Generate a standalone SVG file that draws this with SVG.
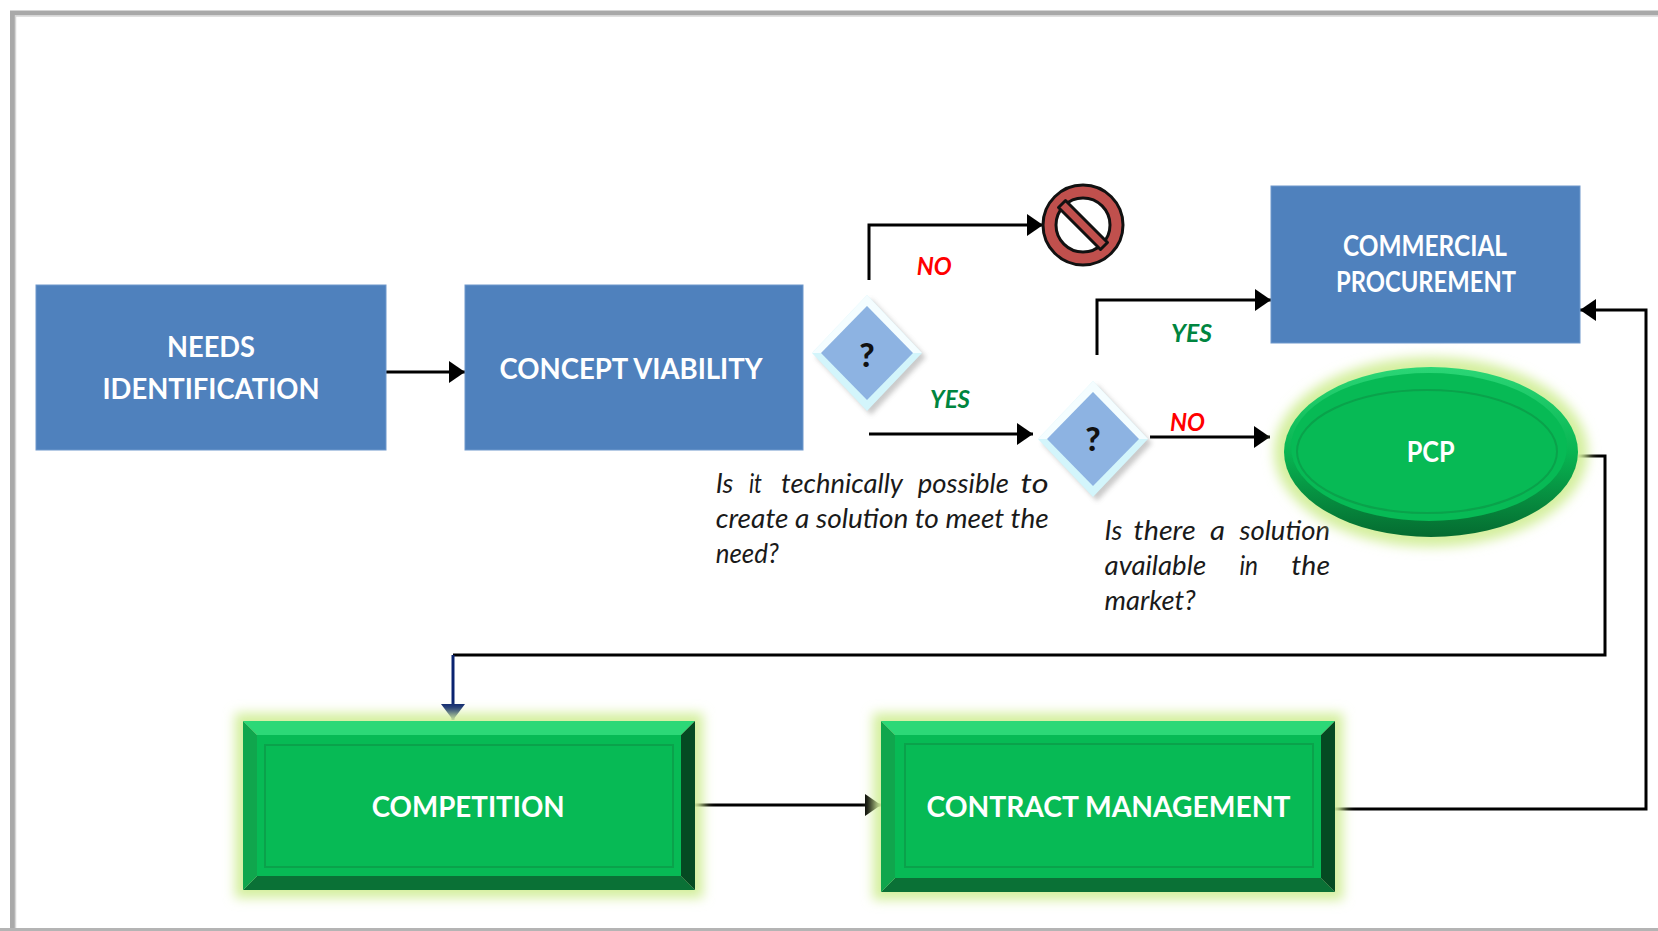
<svg xmlns="http://www.w3.org/2000/svg" width="1658" height="931" viewBox="0 0 1658 931">
<defs>
<style>
.box{fill:#4F81BD;stroke:#6E98CC;stroke-width:1}
.lbl{font-family:Lato,"Open Sans","Liberation Sans",sans-serif;font-weight:700;fill:#FFFFFF;font-size:28px}
.q{font-family:Lato,"Open Sans","Liberation Sans",sans-serif;font-style:italic;font-size:27px;fill:#1A1A1A}
.no{font-family:Lato,"Open Sans","Liberation Sans",sans-serif;font-style:italic;font-weight:700;font-size:25px;fill:#FF0000}
.yes{font-family:Lato,"Open Sans","Liberation Sans",sans-serif;font-style:italic;font-weight:700;font-size:25px;fill:#00853F}
.qm{font-family:Lato,"Open Sans","Liberation Sans",sans-serif;font-weight:900;font-size:33px;fill:#111111;text-anchor:middle}
.ln{fill:none;stroke:#000000;stroke-width:3}
.glow{fill:#D4EF9E;filter:url(#blur)}
.bt{fill:#2CD877}
.bl{fill:#10A64D}
.br{fill:#054A22}
.bb{fill:#0A7136}
.face{fill:#07BA55}
.inl{fill:none;stroke:#0AA24B;stroke-width:2}
</style>
<filter id="blur" x="-20%" y="-20%" width="140%" height="140%"><feGaussianBlur stdDeviation="6"/></filter>
<filter id="shadow" x="-30%" y="-30%" width="160%" height="160%"><feGaussianBlur stdDeviation="2.5"/></filter>
<marker id="ah" markerUnits="userSpaceOnUse" markerWidth="17" markerHeight="22" refX="16" refY="11" orient="auto"><path d="M0,0 L16,11 L0,22 z" fill="#000000"/></marker>
<marker id="ahn" markerUnits="userSpaceOnUse" markerWidth="17" markerHeight="24" refX="16" refY="12" orient="auto"><path d="M0,0 L16,12 L0,24 z" fill="#0B2470"/></marker>
<linearGradient id="ellg" x1="0" y1="0" x2="0" y2="1">
<stop offset="0" stop-color="#2BD676"/><stop offset="0.5" stop-color="#08B552"/><stop offset="1" stop-color="#056B30"/>
</linearGradient>
<g id="dia">
<path d="M4,4 L59,62 L4,120 L-51,62 z" fill="#8A8A8A" opacity="0.45" filter="url(#shadow)"/>
<path d="M0,0 L55,58 L0,116 L-55,58 z" fill="#D3F5FB"/>
<path d="M0,0 L-55,58 L-45,58 L0,11 L45,58 L55,58 z" fill="#F4FDFF"/>
<path d="M0,11 L46,58 L0,105 L-46,58 z" fill="#8DB3E2"/>
</g>
</defs>

<rect x="0" y="0" width="1658" height="931" fill="#FFFFFF"/>
<path d="M1658,13 H12.5 V929" fill="none" stroke="#A9A9A9" stroke-width="5"/>
<path d="M1658,16 H15.5 V929" fill="none" stroke="#D6D6D6" stroke-width="1.5"/>
<line x1="0" y1="929.5" x2="1658" y2="929.5" stroke="#B4B4B4" stroke-width="3"/>

<g id="connectors">
<path class="ln" d="M386,372 H465" marker-end="url(#ah)"/>
<path class="ln" d="M869,280 V225 H1043" marker-end="url(#ah)"/>
<path class="ln" d="M869,434 H1033" marker-end="url(#ah)"/>
<path class="ln" d="M1097,355 V300 H1271" marker-end="url(#ah)"/>
<path class="ln" d="M1150,437 H1270" marker-end="url(#ah)"/>
<path class="ln" d="M1578,456 H1605 V655 H453"/>
<path d="M453,655 V720" fill="none" stroke="#0B2470" stroke-width="3" marker-end="url(#ahn)"/>
<path class="ln" d="M695,805 H881" marker-end="url(#ah)"/>
<path class="ln" d="M1335,809 H1646 V310 H1580" marker-end="url(#ah)"/>
<text class="no" x="916.7" y="275" textLength="35" lengthAdjust="spacingAndGlyphs">NO</text>
<text class="yes" x="930" y="408" textLength="40" lengthAdjust="spacingAndGlyphs">YES</text>
<text class="yes" x="1171" y="341.5" textLength="41" lengthAdjust="spacingAndGlyphs">YES</text>
<text class="no" x="1170" y="430.5" textLength="35" lengthAdjust="spacingAndGlyphs">NO</text>
</g>

<g id="needs">
<rect class="box" x="36" y="285" width="350" height="165"/>
<text class="lbl" x="167" y="357" textLength="88" lengthAdjust="spacingAndGlyphs">NEEDS</text>
<text class="lbl" x="102.5" y="399" textLength="217" lengthAdjust="spacingAndGlyphs">IDENTIFICATION</text>
</g>

<g id="concept">
<rect class="box" x="465" y="285" width="338" height="165"/>
<text class="lbl" x="499.6" y="379" textLength="263" lengthAdjust="spacingAndGlyphs">CONCEPT VIABILITY</text>
</g>

<g id="decision1">
<use href="#dia" x="867" y="295"/>
<text class="qm" x="867" y="367">?</text>
<text class="q" y="493"><tspan x="715.8">Is</tspan><tspan x="749" textLength="13" lengthAdjust="spacingAndGlyphs">it</tspan><tspan x="781" textLength="122" lengthAdjust="spacingAndGlyphs">technically</tspan><tspan x="917.8" textLength="91" lengthAdjust="spacingAndGlyphs">possible</tspan><tspan x="1020.5" textLength="28" lengthAdjust="spacingAndGlyphs">to</tspan></text>
<text class="q" x="715.8" y="528" textLength="333" lengthAdjust="spacingAndGlyphs">create a solution to meet the</text>
<text class="q" x="715.8" y="563" textLength="63" lengthAdjust="spacingAndGlyphs">need?</text>
</g>

<g id="stop">
<circle cx="1083" cy="225" r="40" fill="#C0504D" stroke="#111111" stroke-width="3"/>
<circle cx="1083" cy="225" r="27" fill="#FFFFFF" stroke="#111111" stroke-width="3"/>
<path d="M1058.5,207.5 L1065.5,200.5 L1107.5,242.5 L1100.5,249.5 z" fill="#C0504D" stroke="#111111" stroke-width="3" stroke-linejoin="round"/>
</g>

<g id="decision2">
<use href="#dia" x="1093" y="381"/>
<text class="qm" x="1093" y="451">?</text>
<text class="q" y="540"><tspan x="1104.6">Is</tspan><tspan x="1133.6" textLength="62" lengthAdjust="spacingAndGlyphs">there</tspan><tspan x="1210" textLength="15" lengthAdjust="spacingAndGlyphs">a</tspan><tspan x="1239.4" textLength="90.6" lengthAdjust="spacingAndGlyphs">solution</tspan></text>
<text class="q" y="575"><tspan x="1104.6" textLength="101.5" lengthAdjust="spacingAndGlyphs">available</tspan><tspan x="1239.4" textLength="18.6" lengthAdjust="spacingAndGlyphs">in</tspan><tspan x="1291.3" textLength="38.7" lengthAdjust="spacingAndGlyphs">the</tspan></text>
<text class="q" x="1104.6" y="610" textLength="91" lengthAdjust="spacingAndGlyphs">market?</text>
</g>

<g id="commercial">
<rect class="box" x="1271" y="186" width="309" height="157"/>
<text class="lbl" x="1343" y="256" font-size="27" textLength="164" lengthAdjust="spacingAndGlyphs">COMMERCIAL</text>
<text class="lbl" x="1336" y="291.7" font-size="27" textLength="180" lengthAdjust="spacingAndGlyphs">PROCUREMENT</text>
</g>

<g id="pcp">
<ellipse class="glow" cx="1431" cy="452" rx="157" ry="95"/>
<ellipse cx="1431" cy="452" rx="147" ry="85" fill="url(#ellg)"/>
<ellipse cx="1429" cy="447" rx="138" ry="74" fill="#07BA55"/>
<ellipse class="inl" cx="1427" cy="451.5" rx="130" ry="61.5"/>
<text class="lbl" x="1406.7" y="461.7" textLength="48" lengthAdjust="spacingAndGlyphs">PCP</text>
</g>

<g id="competition">
<rect class="glow" x="235" y="713" width="468" height="185"/>
<polygon class="bt" points="243,721 695,721 681,735 257,735"/>
<polygon class="bb" points="243,890 695,890 681,876 257,876"/>
<polygon class="bl" points="243,721 257,735 257,876 243,890"/>
<polygon class="br" points="695,721 681,735 681,876 695,890"/>
<rect class="face" x="257" y="735" width="424" height="141"/>
<rect class="inl" x="265" y="745" width="408" height="122"/>
<text class="lbl" x="371.7" y="817" textLength="193" lengthAdjust="spacingAndGlyphs">COMPETITION</text>
</g>

<g id="contract">
<rect class="glow" x="873" y="713" width="470" height="187"/>
<polygon class="bt" points="881,721 1335,721 1321,735 895,735"/>
<polygon class="bb" points="881,892 1335,892 1321,878 895,878"/>
<polygon class="bl" points="881,721 895,735 895,878 881,892"/>
<polygon class="br" points="1335,721 1321,735 1321,878 1335,892"/>
<rect class="face" x="895" y="735" width="426" height="143"/>
<rect class="inl" x="905" y="744" width="408" height="123"/>
<text class="lbl" x="926.4" y="816.7" textLength="364" lengthAdjust="spacingAndGlyphs">CONTRACT MANAGEMENT</text>
</g>
</svg>
